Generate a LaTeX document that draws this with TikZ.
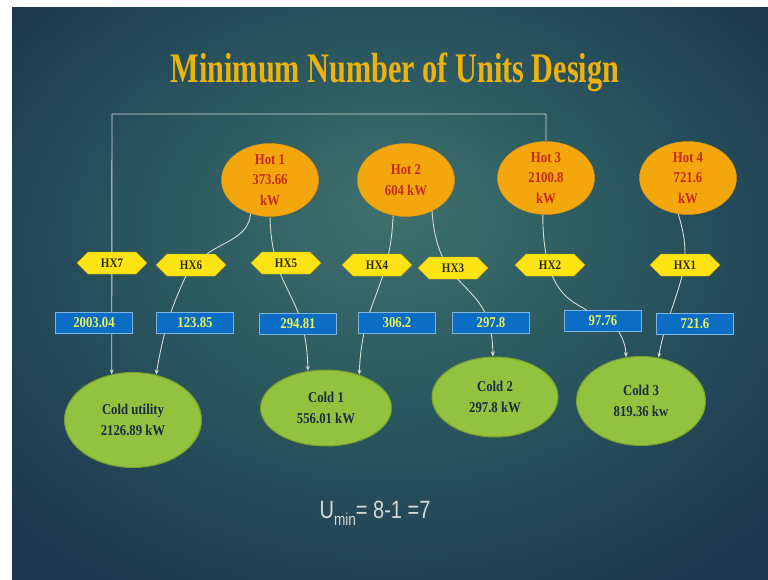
\documentclass[tikz,border=0pt]{standalone}
\usepackage{fontspec}
\setmainfont{Liberation Serif}
\newfontfamily\titlefont{Liberation Serif}[FakeStretch=0.72]
\newfontfamily\nodefont{Liberation Serif}[FakeStretch=0.85]
\newfontfamily\uminfont{Liberation Sans}[FakeStretch=0.8]
\usepackage{tikz}
\usetikzlibrary{shapes.geometric,shapes.symbols,arrows.meta}

\definecolor{bginner}{HTML}{3F716E}
\definecolor{bgmid}{HTML}{2C5A60}
\definecolor{bgouter}{HTML}{1B3750}
\definecolor{titlegold}{HTML}{EDB20E}
\definecolor{hotfill}{HTML}{F4A70C}
\definecolor{hotline}{HTML}{E39410}
\definecolor{hottext}{HTML}{C62A1C}
\definecolor{coldfill}{HTML}{93C23F}
\definecolor{coldline}{HTML}{769F2C}
\definecolor{coldtext}{HTML}{1E2A45}
\definecolor{hxfill}{HTML}{FFE414}
\definecolor{hxline}{HTML}{C9A60A}
\definecolor{hxtext}{HTML}{2A2A12}
\definecolor{dutyfill}{HTML}{0B6EC4}
\definecolor{dutyline}{HTML}{7DB4E0}
\definecolor{dutytext}{HTML}{E8F25A}
\definecolor{wirecol}{HTML}{D5DAD5}
\definecolor{umincol}{HTML}{D6DAD6}

\pgfdeclareradialshading{slidebg}{\pgfpoint{0bp}{8bp}}{color(0bp)=(bginner); color(14bp)=(bgmid); color(34bp)=(bgouter); color(50bp)=(bgouter)}

\pgfdeclarelayer{bg}
\pgfdeclarelayer{wires}
\pgfsetlayers{bg,wires,main}

\begin{document}
\begin{tikzpicture}[x=1pt, y=-1pt, >={Stealth[length=5pt,width=4pt]},
    hot/.style = {ellipse, draw=hotline, fill=hotfill, inner sep=0pt, minimum width=97pt, minimum height=73pt, align=center, text=hottext, font=\nodefont\bfseries\fontsize{15}{20.5}\selectfont},
    cold/.style = {ellipse, draw=coldline, line width=1pt, fill=coldfill, inner sep=0pt, align=center, text=coldtext, font=\nodefont\bfseries\fontsize{15}{21}\selectfont},
    hx/.style = {signal, signal to=east and west, draw=hxline, fill=hxfill, inner sep=0pt, minimum width=70pt, minimum height=22pt, text=hxtext, font=\nodefont\bfseries\fontsize{13}{13}\selectfont},
    duty/.style = {rectangle, draw=dutyline, fill=dutyfill, inner sep=0pt, minimum width=77pt, minimum height=21pt, text=dutytext, font=\nodefont\bfseries\fontsize{15}{15}\selectfont},
    wire/.style = {draw=wirecol, line width=0.9pt}]

    \useasboundingbox (0,0) rectangle (768,580);
    \begin{pgfonlayer}{bg}
    \fill[white] (0,0) rectangle (768,580);
    \shade[shading=slidebg] (12,8) rectangle (768,580);
    \end{pgfonlayer}

    \node[text=titlegold, font=\titlefont\bfseries\fontsize{42}{42}\selectfont, anchor=base] (title) at (395,83) {Minimum Number of Units Design};

    % hot streams
    \node[hot] (h1) at (270,180) {Hot 1\\373.66\\kW};
    \node[hot] (h2) at (406,180) {Hot 2\\604 kW};
    \node[hot] (h3) at (546,178) {Hot 3\\2100.8\\kW};
    \node[hot] (h4) at (688,178) {Hot 4\\721.6\\kW};

    % exchangers
    \node[hx] (hx7) at (112,263) {HX7};
    \node[hx] (hx6) at (191,265) {HX6};
    \node[hx] (hx5) at (286,263) {HX5};
    \node[hx] (hx4) at (377,265) {HX4};
    \node[hx] (hx3) at (453,268) {HX3};
    \node[hx] (hx2) at (550,265) {HX2};
    \node[hx] (hx1) at (685,265) {HX1};

    % duties
    \node[duty] (b7) at (94,323) {2003.04};
    \node[duty] (b6) at (195,323) {123.85};
    \node[duty] (b5) at (298,324) {294.81};
    \node[duty] (b4) at (397,323) {306.2};
    \node[duty] (b3) at (491,323) {297.8};
    \node[duty] (b2) at (603,321) {97.76};
    \node[duty] (b1) at (695,324) {721.6};

    % cold streams
    \node[cold, minimum width=137pt, minimum height=95pt] (cu) at (133,420) {Cold utility\\2126.89 kW};
    \node[cold, minimum width=131pt, minimum height=76pt] (c1) at (326,408) {Cold 1\\556.01 kW};
    \node[cold, minimum width=126pt, minimum height=80pt] (c2) at (495,397) {Cold 2\\297.8 kW};
    \node[cold, minimum width=129pt, minimum height=89pt] (c3) at (641,401) {Cold 3\\819.36 kw};

    \node[text=umincol, font=\uminfont\fontsize{25}{25}\selectfont, anchor=base] (umin) at (375,518) {U\raisebox{-7pt}{\fontsize{17}{17}\selectfont min}= 8-1 =7};

    \coordinate (turn) at (112,114);

    \begin{pgfonlayer}{wires}
    \draw[wire,->] (h3.north) |- (turn) -- (cu.115);
    \draw[wire,->] (h1.240) to [out=-95,in=35] (hx6) to [out=-115,in=80] (cu.63);
    \draw[wire,->] (h1.south) .. controls (272,295) and (306,290) .. (c1.116);
    \draw[wire,->] (h2.250) .. controls (390,290) and (362,300) .. (c1.45);
    \draw[wire,->] (h2.310) .. controls (438,300) and (492,275) .. (c2.93);
    \draw[wire,->] (h3.265) .. controls +(0,80) and +(-30,-20) .. (b2) .. controls +(15,10) and +(0,-15) .. (c3.109);
    \draw[wire,->] (h4.255) to [out=-75,in=90] (hx1) to [out=-105,in=80] (c3.68);
    \end{pgfonlayer}

\end{tikzpicture}
\end{document}
